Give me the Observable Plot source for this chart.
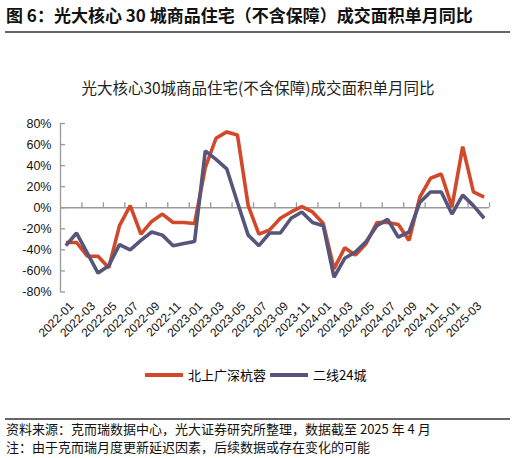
<!DOCTYPE html>
<html>
<head>
<meta charset="utf-8">
<script src="https://cdn.jsdelivr.net/npm/d3@7"></script>
<script src="https://cdn.jsdelivr.net/npm/@observablehq/plot@0.6"></script>
<style>
  html, body { margin: 0; padding: 0; background: #fff; }
  body { width: 516px; height: 458px; position: relative; overflow: hidden;
         font-family: "Noto Sans CJK SC", "Liberation Sans", sans-serif; color: #000; }
  .abs { position: absolute; white-space: nowrap; }
  #title { left: 6px; top: 4px; font-size: 17px; font-weight: bold; line-height: 22px; color: #111; }
  #rule1 { left: 5px; top: 31px; width: 505px; height: 2px; background: #666; }
  #subtitle { left: 0; width: 516px; top: 77px; text-align: center; font-size: 15.5px; line-height: 20px; color: #222; }
  #chart { left: 0; top: 100px; }
  #chart svg { overflow: visible; }
  #chart svg text { font-family: "Liberation Sans", Arial, sans-serif; }
  .leg { top: 366px; font-size: 13px; line-height: 18px; display: flex; align-items: center; }
  .sw { display: inline-block; width: 38px; height: 4px; margin-right: 5px; }
  #rule2 { left: 5px; top: 418px; width: 505px; height: 1.5px; background: #666; }
  .foot { left: 6px; font-size: 13px; line-height: 16px; color: #111; }
</style>
</head>
<body>
<div id="title" class="abs">图 6：光大核心 30 城商品住宅（不含保障）成交面积单月同比</div>
<div id="rule1" class="abs"></div>
<div id="subtitle" class="abs">光大核心30城商品住宅(不含保障)成交面积单月同比</div>
<div id="chart" class="abs"></div>
<div class="abs leg" style="left:145px"><span class="sw" style="background:#D2492A"></span>北上广深杭蓉</div>
<div class="abs leg" style="left:270px"><span class="sw" style="background:#58557A"></span>二线24城</div>
<div id="rule2" class="abs"></div>
<div class="abs foot" style="top:421px">资料来源：克而瑞数据中心，光大证券研究所整理，数据截至 2025 年 4 月</div>
<div class="abs foot" style="top:439px">注：由于克而瑞月度更新延迟因素，后续数据或存在变化的可能</div>
<script>
// Months 2022-01 .. 2025-04
const months = [];
for (let y = 2022; y <= 2025; y++) for (let m = 1; m <= 12; m++) {
  if (y === 2025 && m > 4) break;
  months.push(`${y}-${String(m).padStart(2, "0")}`);
}
// 北上广深杭蓉 (YoY, fraction)
const tier1 = [-0.33, -0.33, -0.46, -0.46, -0.57, -0.17, 0.02, -0.25, -0.13, -0.06, -0.14, -0.14,
               -0.15, 0.38, 0.66, 0.72, 0.69, 0.02, -0.25, -0.21, -0.10, -0.04, 0.01, -0.04,
               -0.15, -0.58, -0.38, -0.45, -0.34, -0.14, -0.14, -0.16, -0.31, 0.10, 0.28, 0.32,
               0.01, 0.58, 0.15, 0.10];
// 二线24城
const tier2 = [-0.36, -0.24, -0.43, -0.62, -0.55, -0.35, -0.40, -0.31, -0.23, -0.26, -0.36, -0.34,
               -0.32, 0.54, 0.46, 0.37, 0.05, -0.26, -0.36, -0.24, -0.24, -0.10, -0.04, -0.14,
               -0.17, -0.66, -0.48, -0.42, -0.32, -0.17, -0.11, -0.28, -0.23, 0.05, 0.15, 0.15,
               -0.06, 0.12, 0.02, -0.10];
const yTicks = [-0.8, -0.6, -0.4, -0.2, 0, 0.2, 0.4, 0.6, 0.8];

const seriesNames = ["北上广深杭蓉", "二线24城"];
const colors = ["#D2492A", "#58557A"];
const data = [];
months.forEach((m, i) => {
  data.push({i, month: m, v: tier1[i], s: seriesNames[0]});
  data.push({i, month: m, v: tier2[i], s: seriesNames[1]});
});
const n = months.length;
const labelIdx = months.map((m, i) => i).filter(i => i % 2 === 0);
const boundaries = months.map((m, i) => i + 1.5).filter((b, k) => k % 2 === 0 && b <= n - 0.5);
const xMin = -0.5, xMax = n - 0.5;
const font = "'Liberation Sans', Arial, sans-serif";

const chart = Plot.plot({
  width: 516,
  height: 250,
  marginLeft: 60,
  marginRight: 27,
  marginTop: 23,
  marginBottom: 58.5,
  style: {fontFamily: font, fontSize: "12px", color: "#000", background: "transparent", overflow: "visible"},
  x: {domain: [xMin, xMax], axis: null},
  y: {domain: [-0.8, 0.8], axis: null},
  color: {domain: seriesNames, range: colors},
  marks: [
    Plot.ruleX([xMin], {y1: -0.8, y2: 0.8, stroke: "#999", strokeWidth: 1.3}),
    Plot.ruleY(yTicks, {x1: xMin, x2: xMin, insetRight: -5, stroke: "#999", strokeWidth: 1.3}),
    Plot.text(yTicks, {x: xMin, y: d => d, text: d => `${Math.round(d * 100)}%`, textAnchor: "end", dx: -9,
      fontSize: 12.5, fontFamily: font, fill: "#111"}),
    Plot.ruleY([0], {x1: xMin, x2: xMax, stroke: "#999", strokeWidth: 1.3}),
    Plot.ruleX(boundaries, {y1: 0, y2: 0, insetTop: -5, stroke: "#999", strokeWidth: 1.3}),
    Plot.line(data, {x: "i", y: "v", z: "s", stroke: "s", strokeWidth: 3.6, strokeLinejoin: "miter", strokeLinecap: "butt"}),
    Plot.text(labelIdx, {x: d => d, y: -0.8, text: d => months[d], rotate: -45, textAnchor: "end",
      dx: 6, dy: 12, fontSize: 12, fontFamily: font, fill: "#111"})
  ]
});
document.getElementById("chart").appendChild(chart);
</script>
</body>
</html>
